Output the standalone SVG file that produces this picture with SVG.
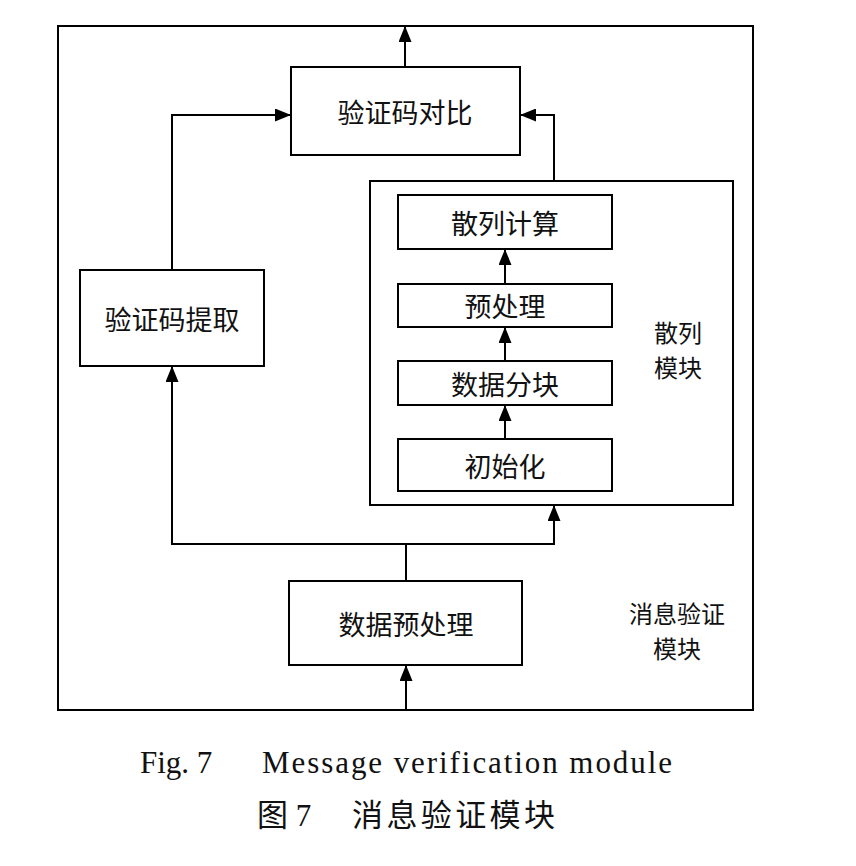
<svg xmlns="http://www.w3.org/2000/svg" width="856" height="866" viewBox="0 0 856 866">
<style>
.box{fill:#fff;stroke:#000;stroke-width:2}
.frame{fill:none;stroke:#000;stroke-width:2}
.t{font-family:"Noto Sans CJK SC","Noto Sans",sans-serif;font-size:27px;fill:#111;text-anchor:middle;dominant-baseline:central}
.t2{font-size:24px}
.c{fill:none;stroke:#000;stroke-width:2;marker-end:url(#ah)}
.l{fill:none;stroke:#000;stroke-width:2}
.cap{font-family:"Liberation Serif","Noto Sans CJK SC",serif;font-size:31px;fill:#111}
</style>
<defs>
<marker id="ah" markerUnits="userSpaceOnUse" markerWidth="16" markerHeight="13" refX="16" refY="6.5" orient="auto">
<path d="M0,0 L16,6.5 L0,13 z" fill="#000"/>
</marker>
</defs>
<rect width="856" height="866" fill="#fff"/>
<g id="msg-module">
<rect class="frame" x="58" y="26" width="695" height="684"/>
<text class="t t2" x="677" y="612">消息验证<tspan x="677" dy="35">模块</tspan></text>
</g>
<g id="hash-module">
<rect class="frame" x="370" y="181" width="363" height="324"/>
<text class="t t2" x="678" y="331">散列<tspan x="678" dy="35">模块</tspan></text>
</g>
<g id="compare">
<rect class="box" x="291" y="67" width="229" height="88"/>
<text class="t" x="405" y="111">验证码对比</text>
</g>
<g id="extract">
<rect class="box" x="80" y="270" width="184" height="96"/>
<text class="t" x="172" y="318">验证码提取</text>
</g>
<g id="hashcalc">
<rect class="box" x="398" y="195" width="214" height="54"/>
<text class="t" x="505" y="222">散列计算</text>
</g>
<g id="preproc">
<rect class="box" x="398" y="284" width="214" height="43"/>
<text class="t" x="505" y="305">预处理</text>
</g>
<g id="split">
<rect class="box" x="398" y="361" width="214" height="44"/>
<text class="t" x="505" y="383">数据分块</text>
</g>
<g id="init">
<rect class="box" x="398" y="439" width="214" height="52"/>
<text class="t" x="505" y="465">初始化</text>
</g>
<g id="datapre">
<rect class="box" x="289" y="581" width="233" height="84"/>
<text class="t" x="406" y="623">数据预处理</text>
</g>
<g id="connectors">
<path class="c" d="M405,67 V26"/>
<path class="c" d="M172,270 V115 H291"/>
<path class="c" d="M554,181 V115 H520"/>
<path class="c" d="M505,284 V249"/>
<path class="c" d="M505,361 V327"/>
<path class="c" d="M505,439 V405"/>
<path class="l" d="M406,581 V544"/>
<path class="c" d="M406,544 H172 V366"/>
<path class="c" d="M406,544 H554 V505"/>
<path class="c" d="M406,710 V665"/>
</g>
<g id="caption">
<text class="cap" x="140" y="773">Fig. 7</text>
<text class="cap" x="262" y="773" textLength="410">Message verification module</text>
<text class="cap" x="257" y="826">图 7</text>
<text class="cap" x="352" y="826" textLength="203">消息验证模块</text>
</g>
</svg>
